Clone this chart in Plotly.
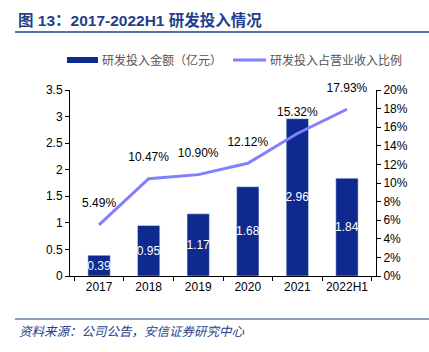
import plotly.graph_objects as go

categories = ["2017", "2018", "2019", "2020", "2021", "2022H1"]
rd_amount = [0.39, 0.95, 1.17, 1.68, 2.96, 1.84]
rd_ratio = [5.49, 10.47, 10.90, 12.12, 15.32, 17.93]
left_ticks = [0, 0.5, 1, 1.5, 2, 2.5, 3, 3.5]
left_tick_text = ["0", "0.5", "1", "1.5", "2", "2.5", "3", "3.5"]
right_ticks = [0, 2, 4, 6, 8, 10, 12, 14, 16, 18, 20]
right_tick_text = [f"{v}%" for v in right_ticks]

BAR = "#0E2A8E"
LINE = "#7F7FFF"
TITLE = "#1E3F8C"
FONT = "Liberation Sans, Arial, Noto Sans CJK SC, sans-serif"
CJK = "Noto Sans CJK SC, sans-serif"

fig = go.Figure()
fig.add_trace(go.Bar(
    x=categories, y=rd_amount, marker_color=BAR, width=0.45,
    text=[f"{v:.2f}" for v in rd_amount], textposition="inside",
    insidetextanchor="middle", textangle=0, constraintext="none",
    textfont=dict(color="white", size=12, family=FONT),
    showlegend=False, yaxis="y", cliponaxis=False,
))
fig.add_trace(go.Scatter(
    x=categories, y=rd_ratio, mode="lines+markers+text", yaxis="y2",
    line=dict(color=LINE, width=3),
    marker=dict(size=22, color="rgba(0,0,0,0)"),
    text=[f"{v:.2f}%" for v in rd_ratio], textposition="top center",
    textfont=dict(color="black", size=12, family=FONT),
    showlegend=False, cliponaxis=False,
))

W, H = 429, 352
L, R, T, B = 70, 53, 90, 76
pw, ph = W - L - R, H - T - B

def px(x):
    return (x - L) / pw

def py(y):
    return (H - B - y) / ph

shapes = [
    dict(type="line", xref="paper", yref="paper", x0=px(15), x1=px(429), y0=py(32), y1=py(32),
         line=dict(color=TITLE, width=1.5)),
    dict(type="line", xref="paper", yref="paper", x0=px(15), x1=px(429), y0=py(319), y1=py(319),
         line=dict(color=TITLE, width=1)),
    dict(type="rect", xref="paper", yref="paper", x0=px(67), x1=px(98), y0=py(57), y1=py(63),
         fillcolor=BAR, line=dict(width=0)),
    dict(type="line", xref="paper", yref="paper", x0=px(233), x1=px(266), y0=py(60), y1=py(60),
         line=dict(color=LINE, width=3)),
]
annotations = [
    dict(text="<b>图 13：2017-2022H1 研发投入情况</b>", xref="paper", yref="paper",
         x=px(16), y=py(20), xanchor="left", yanchor="middle", showarrow=False,
         font=dict(size=15.5, color=TITLE, family=FONT)),
    dict(text="研发投入金额（亿元）", xref="paper", yref="paper",
         x=px(100), y=py(60), xanchor="left", yanchor="middle", showarrow=False,
         font=dict(size=12, color="#555555", family=CJK)),
    dict(text="研发投入占营业收入比例", xref="paper", yref="paper",
         x=px(268), y=py(60), xanchor="left", yanchor="middle", showarrow=False,
         font=dict(size=12, color="#555555", family=CJK)),
    dict(text="<i>资料来源：公司公告，安信证券研究中心</i>", xref="paper", yref="paper",
         x=px(17), y=py(330), xanchor="left", yanchor="middle", showarrow=False,
         font=dict(size=12.5, color=TITLE, family=CJK)),
]

fig.update_layout(
    width=W, height=H, margin=dict(l=L, r=R, t=T, b=B),
    paper_bgcolor="white", plot_bgcolor="white",
    font=dict(family=FONT, size=12, color="black"),
    shapes=shapes, annotations=annotations, bargap=0.55,
    xaxis=dict(showline=True, linecolor="black", linewidth=1, ticks="outside",
               tickson="boundaries", ticklen=4, tickcolor="black", tickangle=0,
               tickfont=dict(size=12, family=FONT), showgrid=False),
    yaxis=dict(range=[0, 3.5], tickvals=left_ticks, ticktext=left_tick_text,
               showline=True, linecolor="black", linewidth=1, ticks="outside",
               ticklen=4, tickcolor="black", showgrid=False, zeroline=False,
               tickfont=dict(size=12, family=FONT)),
    yaxis2=dict(range=[0, 20], tickvals=right_ticks, ticktext=right_tick_text,
                overlaying="y", side="right", showline=True, linecolor="black",
                linewidth=1, ticks="outside", ticklen=4, tickcolor="black",
                showgrid=False, zeroline=False, tickfont=dict(size=12, family=FONT)),
)

fig.write_html("out.html")
